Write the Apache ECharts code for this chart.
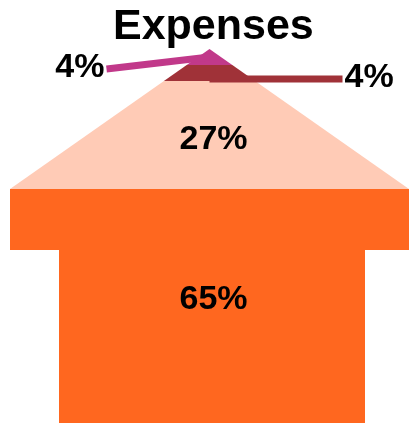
<!DOCTYPE html>
<html><head><meta charset="utf-8">
<script src="https://cdn.jsdelivr.net/npm/echarts@6/dist/echarts.min.js"></script>
<style>html,body{margin:0;padding:0;background:#fff}#c{width:409px;height:423px}</style>
</head><body><div id="c"></div>
<script>
const titleText = 'Expenses';
const categories = ['Expense A', 'Expense B', 'Expense C', 'Expense D'];
const values = [4, 4, 27, 65];
const colors = ['#C1398A', '#A03238', '#FFCBB6', '#FF671F'];

// cumulative stacking (top -> bottom)
const starts = [];
let acc = 0;
values.forEach(v => { starts.push(acc); acc += v; });
const total = acc;
const seriesData = values.map((v, i) => ({ name: categories[i], value: [0, starts[i], starts[i] + v, v, i] }));

// shape styling (pixels)
const HEAD_PX = 140, BAND_PX = 61, SHAFT_HALF = 153, SHAFT_SHIFT = 2.5;
const labelSide = [-1, 1, 0, 0];
const leaderLen = [103, 133];
const leaderDy = [12, 6];
const insideDy = [0, 0, 5, -6];
const FONT = '"Liberation Sans", Arial, Helvetica, sans-serif';

function renderItem(params, api) {
  const i = api.value(4);
  const top = api.coord([0, api.value(1)])[1];
  const bot = api.coord([0, api.value(2)])[1];
  const cs = params.coordSys;
  const cx = cs.x + cs.width / 2;
  const apex = cs.y;
  const W = cs.width / 2;
  const headEnd = apex + HEAD_PX, bandEnd = headEnd + BAND_PX;
  const head = y => { const w = W * (y - apex) / HEAD_PX; return [-w, w]; };
  const band = [-W, W];
  const shaft = [-SHAFT_HALF + SHAFT_SHIFT, SHAFT_HALF + SHAFT_SHIFT];
  const wTop = y => y < headEnd ? head(y) : (y < bandEnd ? band : shaft);
  const wBot = y => y <= headEnd ? head(y) : (y <= bandEnd ? band : shaft);
  const rows = [[wTop(top), top]];
  if (top < headEnd && bot > headEnd) rows.push([band, headEnd]);
  if (top < bandEnd && bot > bandEnd) { rows.push([band, bandEnd]); rows.push([shaft, bandEnd]); }
  rows.push([wBot(bot), bot]);
  const pts = rows.map(r => [cx + r[0][1], r[1]]).concat(rows.slice().reverse().map(r => [cx + r[0][0], r[1]]));
  const children = [{
    type: 'polygon', shape: { points: pts },
    style: { fill: colors[i] }
  }];
  const pct = Math.round(api.value(3) / total * 100) + '%';
  const side = labelSide[i];
  if (side === 0) {
    const visBot = Math.min(bot, api.getHeight());
    children.push({
      type: 'text', z2: 10,
      style: { text: pct, x: cx + 4, y: (top + visBot) / 2 + insideDy[i], align: 'center', verticalAlign: 'middle',
        fill: '#000', font: 'bold 34px ' + FONT }
    });
  } else {
    const y0 = (top + bot) / 2;
    const dy = leaderDy[i];
    const x1 = cx + side * leaderLen[i];
    const ys = side > 0 ? y0 + dy : y0;
    const ye = y0 + dy;
    children.push({
      type: 'line', z2: 5,
      shape: { x1: cx, y1: ys, x2: x1, y2: ye },
      style: { stroke: colors[i], lineWidth: 7 }
    });
    children.push({
      type: 'text', z2: 10,
      style: { text: pct, x: x1 + side * 2, y: ye - 1, align: side > 0 ? 'left' : 'right', verticalAlign: 'middle',
        fill: '#000', font: 'bold 34px ' + FONT }
    });
  }
  return { type: 'group', children };
}

const chart = echarts.init(document.getElementById('c'), null, { renderer: 'canvas' });
chart.setOption({
  animation: false,
  title: {
    text: titleText, left: 108, top: 1,
    textStyle: { fontSize: 43, fontWeight: 'bold', color: '#000', fontFamily: FONT }
  },
  grid: { left: 10, right: 0, top: 49, bottom: 0 },
  xAxis: { type: 'value', min: -1, max: 1, show: false },
  yAxis: { type: 'value', min: 0, max: 93.5, inverse: true, show: false },
  series: [{
    type: 'custom',
    renderItem,
    encode: { x: 0, y: [1, 2] },
    clip: false,
    data: seriesData
  }]
});
</script>
</body></html>
